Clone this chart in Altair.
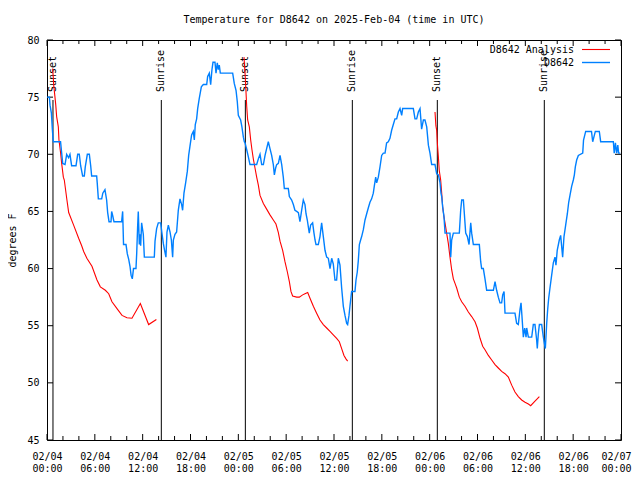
import altair as alt
import pandas as pd

# ---------------- data (hours since 2025-02-04 00:00 UTC, degrees F) ----------------
obs_hours = [
    0.00, 0.30, 0.38, 0.55, 0.67, 0.79, 1.70, 1.80, 1.97, 2.26, 2.47, 2.70, 2.88, 3.09, 3.64,
    3.85, 4.05, 4.22, 4.47, 4.68, 4.80, 5.06, 5.31, 5.48, 5.60, 6.23, 6.30, 6.44, 6.86, 7.00,
    7.27, 7.48, 7.61, 7.78, 8.03, 8.11, 8.25, 8.40, 9.36, 9.49, 9.60, 9.91, 10.07, 10.25, 10.41,
    10.55, 10.70, 10.85, 11.16, 11.25, 11.37, 11.45, 11.58, 11.65, 11.75, 11.87, 12.08, 12.21,
    13.46, 13.55, 13.75, 13.96, 14.26, 14.40, 14.59, 14.75, 14.92, 15.05, 15.22, 15.43, 15.60,
    15.76, 15.85, 16.05, 16.26, 16.47, 16.68, 16.89, 17.01, 17.18, 17.39, 17.60, 17.77, 17.93,
    18.14, 18.35, 18.48, 18.60, 18.77, 18.90, 19.10, 19.36, 19.61, 20.03, 20.15, 20.36, 20.53,
    20.69, 20.82, 21.07, 21.20, 21.36, 21.49, 21.61, 21.74, 23.29, 23.49, 23.71, 23.87, 24.00,
    24.29, 24.45, 24.63, 24.75, 24.84, 25.05, 25.25, 25.46, 26.30, 26.51, 26.72, 26.93, 27.14,
    27.35, 27.55, 27.76, 27.97, 28.18, 28.39, 28.52, 28.68, 28.81, 29.02, 29.23, 29.44, 29.64,
    29.77, 30.27, 30.40, 30.69, 30.90, 31.10, 31.32, 31.53, 31.73, 31.94, 32.15, 32.36, 32.49,
    32.65, 32.90, 33.07, 33.32, 33.49, 33.62, 33.74, 34.03, 34.24, 34.45, 34.66, 34.87, 35.08,
    35.29, 35.50, 35.71, 35.91, 36.12, 36.33, 36.54, 36.75, 36.96, 37.17, 37.38, 37.59, 37.71,
    37.88, 38.00, 38.13, 38.21, 38.63, 38.76, 38.92, 39.05, 39.18, 39.34, 39.47, 39.68, 39.89,
    40.10, 40.30, 40.51, 40.72, 40.93, 41.05, 41.23, 41.35, 41.56, 41.77, 41.98, 42.19, 42.40,
    42.60, 42.81, 43.02, 43.23, 43.44, 43.65, 43.86, 44.07, 44.28, 44.49, 44.61, 44.90, 45.95,
    46.16, 46.37, 46.58, 46.79, 46.99, 47.21, 47.41, 47.63, 47.84, 48.04, 48.25, 48.67, 48.88,
    49.09, 49.30, 49.42, 49.51, 49.63, 49.80, 49.93, 50.55, 50.64, 50.76, 50.97, 51.72, 51.89,
    52.02, 52.23, 52.35, 52.52, 52.73, 52.94, 53.15, 53.27, 53.48, 54.23, 54.40, 54.52, 54.73,
    54.94, 55.15, 55.99, 56.20, 56.40, 56.61, 56.82, 57.03, 57.16, 57.33, 57.45, 58.70, 58.91,
    59.12, 59.33, 59.46, 59.58, 59.75, 59.92, 60.09, 60.17, 60.38, 60.80, 61.00, 61.21, 61.42,
    61.50, 61.63, 61.76, 62.05, 62.26, 62.38, 62.51, 62.68, 62.80, 62.93, 63.09, 63.30, 63.51,
    63.72, 63.84, 64.00, 64.26, 64.43, 64.68, 64.85, 65.06, 65.27, 65.44, 65.60, 65.81, 66.02,
    66.15, 66.27, 66.44, 66.65, 67.20, 67.30, 67.57, 68.30, 68.45, 68.78, 69.28, 69.45, 71.04,
    71.15, 71.30, 71.45, 71.60, 71.70, 71.90,
]
obs_temps = [
    75.0, 75.0, 74.3, 73.6, 72.2, 71.1, 71.1, 70.4, 69.2, 69.1, 70.0, 69.7, 70.0, 69.0, 69.0,
    70.0, 70.0, 69.0, 68.1, 68.1, 68.9, 70.0, 70.0, 69.0, 68.1, 68.1, 67.5, 66.1, 66.1, 66.6,
    66.9, 66.0, 64.9, 64.1, 64.1, 65.0, 64.6, 64.1, 64.1, 65.0, 62.1, 62.1, 61.3, 60.8, 60.2,
    59.4, 59.1, 60.0, 60.0, 61.3, 63.7, 65.0, 62.1, 63.0, 62.0, 64.0, 63.0, 61.0,
    61.0, 62.4, 63.5, 64.0, 64.0, 63.2, 62.2, 61.6, 61.0, 63.2, 63.8, 63.2, 62.5,
    61.0, 62.5, 63.0, 63.2, 65.1, 66.1, 65.6, 65.1, 66.6, 67.5, 68.5, 69.9, 70.7,
    71.7, 72.0, 71.25, 72.6, 73.1, 74.0, 74.9, 75.9, 76.1, 76.1, 76.8, 77.1, 76.1,
    77.4, 78.05, 78.05, 77.1, 78.0, 77.4, 77.8, 77.1, 77.1, 76.2, 75.6, 74.6, 73.4,
    73.0, 72.4, 71.5, 71.1, 71.0, 70.4, 69.8, 69.1, 69.1, 69.6, 70.0, 69.1, 69.1,
    69.9, 70.5, 71.1, 70.5, 69.9, 69.1, 68.2, 68.8, 69.1, 69.2, 69.9, 69.1, 68.0,
    67.0, 67.0, 66.3, 66.0, 65.6, 65.1, 65.0, 64.9, 64.1, 65.1, 66.0, 65.6, 64.8,
    64.25, 63.1, 63.8, 64.0, 63.1, 62.5, 62.1, 62.1, 62.8, 64.0, 62.8, 61.6, 61.0,
    60.9, 60.0, 60.9, 60.4, 59.0, 59.0, 60.9, 60.3, 58.3, 56.7, 55.9, 55.2, 55.1,
    55.9, 56.7, 57.5, 58.0, 58.0, 59.0, 59.7, 60.7, 62.1, 62.5, 62.8, 63.4, 64.25,
    64.8, 65.3, 65.8, 66.1, 66.6, 67.2, 68.0, 67.5, 68.0, 68.9, 69.9, 70.1, 70.1,
    71.0, 71.1, 71.4, 72.1, 72.6, 73.1, 73.1, 73.7, 74.0, 73.4, 74.0, 74.0, 74.0,
    73.1, 73.1, 73.7, 74.0, 72.2, 73.0, 73.0, 72.4, 70.8, 70.1, 69.1, 69.1, 68.3,
    68.2, 67.5, 66.6, 66.3, 65.4, 64.5, 63.1, 63.1, 61.0, 62.5, 63.1, 63.1, 65.1,
    66.0, 66.0, 64.8, 63.1, 62.8, 62.1, 64.0, 63.1, 62.1, 62.1, 60.6, 60.0, 60.0,
    59.1, 58.1, 58.1, 58.85, 58.1, 57.5, 57.0, 57.0, 57.7, 58.0, 56.1, 56.1, 55.2,
    55.1, 56.4, 57.0, 55.8, 54.0, 54.8, 54.0, 54.8, 54.0, 54.0, 55.1, 55.1, 53.75,
    53.0, 54.3, 55.1, 55.1, 54.0, 53.5, 53.0, 55.2, 56.4, 57.4, 58.3, 59.4, 60.5,
    61.0, 60.3, 61.6, 62.5, 62.9, 61.0, 62.8, 63.8, 64.8, 65.8, 66.4, 67.2, 67.75,
    68.2, 68.9, 69.5, 69.9, 70.1, 71.25, 72.0, 72.0, 71.1, 72.0, 72.0, 71.1, 71.1,
    70.1, 71.0, 70.1, 70.8, 70.1, 70.1,
]

ana1_hours = [0.71, 0.85, 1.00, 1.10, 1.21, 1.42, 1.50, 1.71, 1.84, 2.05, 2.17, 2.50, 2.72, 3.34,
              3.97, 4.35, 4.60, 5.00, 5.64, 6.27, 6.69, 7.32, 7.74, 8.15, 8.78, 9.41,
              10.03, 10.66, 11.71, 12.75, 13.72]
ana1_temps = [77.5, 76.0, 75.0, 74.3, 73.3, 72.4, 71.25, 70.1, 69.2, 68.0, 67.75, 66.0, 64.9, 63.8,
              62.65, 62.0, 61.5, 60.9, 60.2, 59.0, 58.4, 58.1, 57.8, 57.1, 56.5, 55.9,
              55.7, 55.65, 56.95, 55.1, 55.55]

ana2_hours = [24.71, 24.84, 24.95, 25.05, 25.17, 25.38, 25.55, 25.71, 25.88, 26.09, 26.30, 26.51,
              26.72, 27.14, 27.55, 27.97, 28.39, 28.72, 29.02, 29.23, 29.56, 29.85, 30.15, 30.40,
              30.60, 30.81, 31.32, 31.65, 32.07, 32.36, 32.70, 32.99, 33.41, 33.82, 34.24, 34.66,
              35.08, 35.50, 35.91, 36.33, 36.67, 36.96, 37.25, 37.50, 37.71]
ana2_temps = [78.5, 77.1, 75.6, 74.2, 73.0, 72.4, 71.25, 70.4, 69.6, 68.8, 68.0, 67.3,
              66.4, 65.7, 65.2, 64.7, 64.25, 63.9, 63.15, 62.4, 61.6, 60.6, 59.7, 58.85,
              58.0, 57.6, 57.5, 57.5, 57.7, 57.8, 57.9, 57.4, 56.7, 56.1, 55.5, 55.1,
              54.8, 54.5, 54.2, 53.9, 53.6, 53.0, 52.4, 52.1, 51.9]

ana3_hours = [48.67, 48.78, 48.88, 48.98, 49.09, 49.20, 49.38, 49.51, 49.63, 49.80, 49.97, 50.13,
              50.34, 50.55, 50.76, 50.97, 51.18, 51.39, 51.72, 52.02, 52.43, 52.85, 53.27, 53.69,
              53.98, 54.32, 54.65, 54.94, 55.36, 55.78, 56.20, 56.61, 57.03, 57.45, 57.87, 58.29,
              58.70, 59.12, 59.54, 59.96, 60.38, 60.67, 61.21, 61.76]
ana3_temps = [73.7, 72.5, 72.1, 70.8, 69.8, 68.6, 67.75, 66.6, 65.4, 64.5, 63.8, 63.1,
              62.2, 61.0, 59.9, 59.1, 58.7, 58.3, 57.5, 57.1, 56.7, 56.2, 55.8, 55.35,
              54.8, 53.9, 53.2, 52.9, 52.4, 52.0, 51.6, 51.3, 51.0, 50.8, 50.5, 49.8,
              49.2, 48.8, 48.5, 48.3, 48.15, 48.0, 48.4, 48.8]

event_hours = [0.75, 14.34, 24.88, 38.30, 48.96, 62.38]
event_labels = ["Sunset", "Sunrise", "Sunset", "Sunrise", "Sunset", "Sunrise"]

series_names = ["D8642 Analysis", "D8642"]
series_colors = ["#ff0000", "#0080ff"]
series_widths = [1.1, 1.4]

major_tick_hours = list(range(0, 73, 6))
minor_tick_hours = [h for h in range(0, 73, 2) if h % 6]
y_tick_values = [45, 50, 55, 60, 65, 70, 75, 80]

TITLE = "Temperature for D8642 on 2025-Feb-04 (time in UTC)"
FONT = "DejaVu Sans Mono"

# ---------------- helpers ----------------
BASE = pd.Timestamp("2025-02-04T00:00:00Z")


def iso(h):
    return (BASE + pd.to_timedelta(h, unit="h")).strftime("%Y-%m-%dT%H:%M:%SZ")


def ms(h):
    return int((BASE + pd.to_timedelta(h, unit="h")).timestamp() * 1000)


W, H = 574, 400

obs_df = pd.DataFrame({"time": [iso(h) for h in obs_hours], "temp": obs_temps,
                       "series": series_names[1], "seg": 0})
ana_parts = []
for i, (hs, ts) in enumerate([(ana1_hours, ana1_temps), (ana2_hours, ana2_temps), (ana3_hours, ana3_temps)]):
    ana_parts.append(pd.DataFrame({"time": [iso(h) for h in hs], "temp": ts,
                                   "series": series_names[0], "seg": i + 1}))
ana_df = pd.concat(ana_parts, ignore_index=True)
ev_df = pd.DataFrame({"time": [iso(h) for h in event_hours], "label": event_labels})
major_df = pd.DataFrame({"time": [iso(h) for h in major_tick_hours]})
minor_df = pd.DataFrame({"time": [iso(h) for h in minor_tick_hours]})
ytick_df = pd.DataFrame({"temp": y_tick_values})
leg_df = pd.DataFrame({"series": series_names})

x_enc = alt.X(
    "time:T",
    scale=alt.Scale(type="utc", domain=[ms(0), ms(72)], nice=False),
    axis=alt.Axis(
        values=[ms(h) for h in major_tick_hours],
        labelExpr="[utcFormat(datum.value, '%m/%d'), utcFormat(datum.value, '%H:%M')]",
        title=None, grid=False, domain=False, ticks=True, tickSize=0,
        labelPadding=11, labelFont=FONT, labelFontSize=10, labelLineHeight=12,
        labelColor="black", labelFlush=False, labelOverlap=False, labelBound=False,
        labelAlign="center", labelBaseline="top",
        labelOffset={"condition": {"test": f"datum.value >= {ms(72)}", "value": -5}, "value": 0},
    ),
)
y_enc = alt.Y(
    "temp:Q",
    scale=alt.Scale(domain=[45, 80], nice=False, zero=False),
    axis=alt.Axis(
        values=y_tick_values, title="degrees F", grid=False, domain=False, ticks=True,
        tickSize=0, labelPadding=8, labelFont=FONT, labelFontSize=10, labelColor="black",
        labelFlush=False, labelOverlap=False, titleFont=FONT, titleFontSize=10,
        titleFontWeight="normal", titleColor="black", titlePadding=9,
    ),
)
color_scale = alt.Scale(domain=series_names, range=series_colors)
color_enc = alt.Color("series:N", scale=color_scale, legend=None)

obs_line = alt.Chart(obs_df).mark_line(strokeWidth=series_widths[1], interpolate="linear").encode(
    x=x_enc, y=y_enc, color=color_enc)
ana_line = alt.Chart(ana_df).mark_line(strokeWidth=series_widths[0]).encode(
    x=x_enc, y=y_enc, color=color_enc, detail="seg:N")

ev_rules = alt.Chart(ev_df).mark_rule(color="black", strokeWidth=1).encode(
    x=x_enc, y=alt.value(60), y2=alt.value(H))
ev_text = alt.Chart(ev_df).mark_text(angle=270, align="left", baseline="middle",
                                     font=FONT, fontSize=10, color="black").encode(
    x=x_enc, y=alt.value(52), text="label:N")

tick_style = dict(color="black", strokeWidth=1)
bot_major = alt.Chart(major_df).mark_rule(**tick_style).encode(x=x_enc, y=alt.value(H), y2=alt.value(H - 6))
top_major = alt.Chart(major_df).mark_rule(**tick_style).encode(x=x_enc, y=alt.value(0), y2=alt.value(6))
bot_minor = alt.Chart(minor_df).mark_rule(**tick_style).encode(x=x_enc, y=alt.value(H), y2=alt.value(H - 4))
top_minor = alt.Chart(minor_df).mark_rule(**tick_style).encode(x=x_enc, y=alt.value(0), y2=alt.value(4))
left_ticks = alt.Chart(ytick_df).mark_rule(**tick_style).encode(y=y_enc, x=alt.value(0), x2=alt.value(6))
right_ticks = alt.Chart(ytick_df).mark_rule(**tick_style).encode(y=y_enc, x=alt.value(W), x2=alt.value(W - 6))

# key (gnuplot style: label right-aligned, sample line to its right)
legend_layers = []
for i, name in enumerate(series_names):
    row_y = 9.5 + 13 * i
    sub = alt.Chart(leg_df).transform_filter(alt.datum.series == name)
    legend_layers.append(sub.mark_text(align="right", baseline="middle", font=FONT, fontSize=10,
                                       color="black").encode(
        x=alt.value(527), y=alt.value(row_y), text="series:N"))
    legend_layers.append(sub.mark_rule(strokeWidth=series_widths[i]).encode(
        x=alt.value(535), x2=alt.value(563), y=alt.value(row_y), color=color_enc))

chart = alt.layer(
    bot_major, top_major, bot_minor, top_minor, left_ticks, right_ticks,
    ev_rules, ev_text, ana_line, obs_line, *legend_layers,
).properties(
    width=W, height=H,
    title=alt.TitleParams(TITLE, font=FONT, fontSize=10, fontWeight="normal", color="black",
                          anchor="middle", offset=10),
    autosize="none",
    padding={"left": 39, "top": 32, "right": 11, "bottom": 32},
    background="white",
).configure_view(stroke="black", strokeWidth=1)

chart.save("out.html", embed_options={"renderer": "svg", "actions": False})
